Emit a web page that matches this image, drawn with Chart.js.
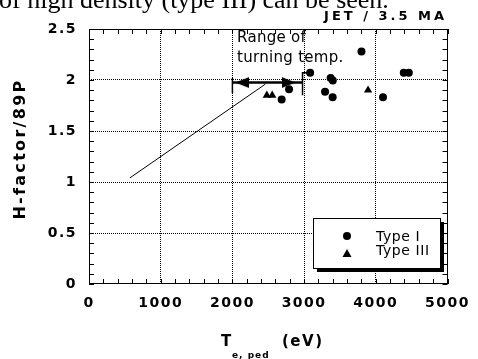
<!DOCTYPE html>
<html><head><meta charset="utf-8">
<script src="https://cdn.jsdelivr.net/npm/chart.js@4/dist/chart.umd.min.js"></script>
<style>html,body{margin:0;padding:0;background:#fff;overflow:hidden}</style>
</head><body>
<canvas id="c" width="478" height="359"></canvas>
<script>
// ---- data ----
const xTickLabels = ['0','1000','2000','3000','4000','5000'];
const yTickLabels = ['0','0.5','1','1.5','2','2.5'];
const typeI_T = [3800, 3084, 3370, 3400, 2790, 3292, 3398, 2687, 4100, 4390, 4460];
const typeI_H = [2.28, 2.07, 2.02, 1.995, 1.91, 1.886, 1.83, 1.81, 1.83, 2.07, 2.07];
const typeIII_T = [2480, 2555, 3892];
const typeIII_H = [1.85, 1.85, 1.90];
const fitLine_T = [570, 2460];
const fitLine_H = [1.04, 1.96];
const arrow_T = [2000, 2978];
const arrow_H = [1.975, 1.975];
const arrowHeads_T = [2137, 2784];
const arrowHeads_H = [1.975, 1.975];
const barLeft_T = [2000, 2000];
const barLeft_H = [2.02, 1.87];
const barRight_T = [3040, 2978, 2978];
const barRight_H = [2.07, 2.07, 1.85];
const seriesNames = ['Type I', 'Type III'];

const pts = (xs, ys) => xs.map((x, i) => ({x, y: ys[i]}));

function arrowImg(dir) {
  const c = document.createElement('canvas');
  c.width = 14; c.height = 11;
  const g = c.getContext('2d');
  g.fillStyle = '#000';
  g.beginPath();
  if (dir < 0) { g.moveTo(0, 5.5); g.lineTo(14, 0); g.lineTo(14, 11); }
  else { g.moveTo(14, 5.5); g.lineTo(0, 0); g.lineTo(0, 11); }
  g.closePath(); g.fill();
  return c;
}

const decor = {
  id: 'decor',
  beforeDraw(chart) {
    chart.ctx.letterSpacing = '1.5px';
  },
  afterDraw(chart) {
    const ctx = chart.ctx, a = chart.chartArea;
    const xs = chart.scales.x, ys = chart.scales.y;
    ctx.save();
    ctx.letterSpacing = '0px';
    // frame
    ctx.strokeStyle = '#000'; ctx.lineWidth = 1;
    ctx.strokeRect(Math.round(a.left) + 0.5, Math.round(a.top) + 0.5,
                   Math.round(a.right - a.left) - 1, Math.round(a.bottom - a.top) - 1);
    // inward minor ticks
    const tl = 5;
    ctx.beginPath();
    for (let v = 0; v <= 5000; v += 200) {
      const px = Math.round(xs.getPixelForValue(v)) + 0.5;
      ctx.moveTo(px, a.bottom); ctx.lineTo(px, a.bottom - tl);
      ctx.moveTo(px, a.top); ctx.lineTo(px, a.top + tl);
    }
    for (let i = 0; i <= 25; i++) {
      const py = Math.round(ys.getPixelForValue(i / 10)) + 0.5;
      ctx.moveTo(a.left, py); ctx.lineTo(a.left + tl, py);
      ctx.moveTo(a.right, py); ctx.lineTo(a.right - tl, py);
    }
    ctx.stroke();

    ctx.fillStyle = '#000';
    // cut-off caption at top
    ctx.font = '26px "Liberation Serif"';
    ctx.textAlign = 'left'; ctx.textBaseline = 'alphabetic';
    ctx.fillText('of high density (type III) can be seen.', -1, 8);
    // title
    ctx.font = 'bold 13px "DejaVu Sans"';
    ctx.letterSpacing = '3px';
    ctx.textAlign = 'right';
    ctx.fillText('JET / 3.5 MA', 447, 20);
    // annotation
    ctx.font = '15px "DejaVu Sans"';
    ctx.letterSpacing = '0.3px';
    ctx.textAlign = 'left';
    ctx.fillText('Range of', 237, 42);
    ctx.fillText('turning temp.', 237, 62);
    // x title
    ctx.font = 'bold 15px "DejaVu Sans"';
    ctx.letterSpacing = '1.5px';
    ctx.fillText('T', 221, 346);
    ctx.fillText('(eV)', 282, 346);
    ctx.font = 'bold 9px "DejaVu Sans"';
    ctx.letterSpacing = '1px';
    ctx.fillText('e, ped', 232, 358);
    // y title
    ctx.save();
    ctx.translate(25, 149);
    ctx.rotate(-Math.PI / 2);
    ctx.font = 'bold 16px "DejaVu Sans"';
    ctx.letterSpacing = '2.3px';
    ctx.textAlign = 'center';
    ctx.fillText('H-factor/89P', 0, 0);
    ctx.restore();
    // legend
    ctx.letterSpacing = '0px';
    const lx = 313, ly = 218, lw = 127, lh = 50;
    ctx.fillRect(lx + 4, ly + 4, lw, lh);
    ctx.fillStyle = '#fff';
    ctx.fillRect(lx + 0.5, ly + 0.5, lw, lh);
    ctx.strokeRect(lx + 0.5, ly + 0.5, lw, lh);
    ctx.fillStyle = '#000';
    ctx.beginPath(); ctx.arc(347, 236, 4, 0, Math.PI * 2); ctx.fill();
    ctx.beginPath(); ctx.moveTo(347, 249); ctx.lineTo(351.5, 257); ctx.lineTo(342.5, 257); ctx.closePath(); ctx.fill();
    ctx.font = '14px "DejaVu Sans"';
    ctx.letterSpacing = '0.6px';
    ctx.textBaseline = 'middle';
    ctx.fillText(seriesNames[0], 376, 237);
    ctx.fillText(seriesNames[1], 376, 251);
    ctx.restore();
  }
};

const lineDs = (data, w) => ({type: 'line', data, borderColor: '#000', borderWidth: w,
  pointRadius: 0, fill: false, tension: 0, showLine: true});

new Chart(document.getElementById('c'), {
  type: 'scatter',
  data: {
    datasets: [
      lineDs(pts(fitLine_T, fitLine_H), 1),
      lineDs(pts(arrow_T, arrow_H), 2.5),
      lineDs(pts(barLeft_T, barLeft_H), 1.5),
      lineDs(pts(barRight_T, barRight_H), 1.5),
      {label: 'arrows', data: pts(arrowHeads_T, arrowHeads_H),
       pointStyle: [arrowImg(-1), arrowImg(1)], pointRadius: 6},
      {label: seriesNames[0], data: pts(typeI_T, typeI_H), pointStyle: 'circle',
       pointRadius: 4, backgroundColor: '#000', borderColor: '#000', borderWidth: 0},
      {label: seriesNames[1], data: pts(typeIII_T, typeIII_H), pointStyle: 'triangle',
       pointRadius: 4.8, backgroundColor: '#000', borderColor: '#000', borderWidth: 0}
    ]
  },
  options: {
    responsive: false, animation: false, devicePixelRatio: 1,
    layout: {padding: {top: 29, right: 28, left: 0, bottom: 0}},
    plugins: {legend: {display: false}, tooltip: {enabled: false}},
    scales: {
      x: {
        type: 'linear', min: 0, max: 5000,
        afterFit: s => { s.height = 75; },
        ticks: {stepSize: 1000, color: '#000', padding: 11,
          font: {family: 'DejaVu Sans', weight: 'bold', size: 14},
          callback: (v, i) => xTickLabels[i], maxRotation: 0},
        grid: {drawTicks: false, lineWidth: 1,
          color: c => (c.tick && (c.tick.value === 0 || c.tick.value === 5000)) ? 'rgba(0,0,0,0)' : '#000'},
        border: {display: false, dash: [1, 1]}
      },
      y: {
        type: 'linear', min: 0, max: 2.5,
        afterFit: s => { s.width = 89; },
        ticks: {stepSize: 0.5, color: '#000', padding: 12,
          font: {family: 'DejaVu Sans', weight: 'bold', size: 14},
          callback: (v, i) => yTickLabels[i]},
        grid: {drawTicks: false, lineWidth: 1,
          color: c => (c.tick && (c.tick.value === 0 || c.tick.value === 2.5)) ? 'rgba(0,0,0,0)' : '#000'},
        border: {display: false, dash: [1, 1]}
      }
    }
  },
  plugins: [decor]
});
</script>
</body></html>
